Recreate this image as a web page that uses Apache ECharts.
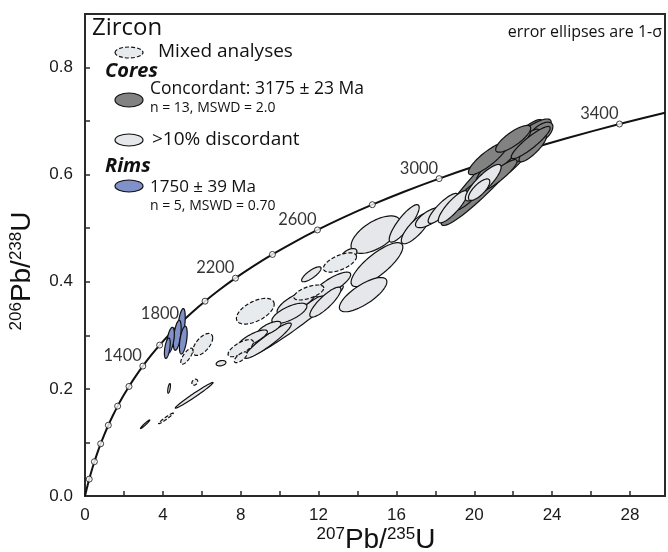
<!DOCTYPE html>
<html><head><meta charset="utf-8">
<script src="https://cdn.jsdelivr.net/npm/echarts@6/dist/echarts.min.js"></script>
<style>html,body{margin:0;padding:0;background:#fff}#c{width:668px;height:552px}</style>
</head><body><div id="c"></div>
<script>
// Concordia reference curve (age in Ma, 207Pb/235U, 206Pb/238U)
const concordiaAges = [0, 100, 200, 300, 400, 500, 600, 700, 800, 900, 1000, 1100, 1200, 1300, 1400, 1500, 1600, 1700, 1800, 1900, 2000, 2100, 2200, 2300, 2400, 2500, 2600, 2700, 2800, 2900, 3000, 3100, 3200, 3300, 3400, 3480];
const concordiaX = [0, 0.1035, 0.2177, 0.3437, 0.4828, 0.6363, 0.8056, 0.9925, 1.1988, 1.4263, 1.6774, 1.9546, 2.2603, 2.5978, 2.9701, 3.3810, 3.8345, 4.3349, 4.8870, 5.4963, 6.1687, 6.9106, 7.7294, 8.6329, 9.6298, 10.730, 11.944, 13.284, 14.762, 16.393, 18.194, 20.180, 22.372, 24.791, 27.461, 29.80];
const concordiaY = [0, 0.01563, 0.03151, 0.04764, 0.06402, 0.08065, 0.09754, 0.11470, 0.13213, 0.14983, 0.16780, 0.18606, 0.20459, 0.22343, 0.24257, 0.26198, 0.28173, 0.30175, 0.32211, 0.34277, 0.36377, 0.38508, 0.40675, 0.42873, 0.45107, 0.47375, 0.49678, 0.52019, 0.54396, 0.56809, 0.59263, 0.61750, 0.64281, 0.66848, 0.69459, 0.71577];
const labelledAges = [1400, 1800, 2200, 2600, 3000, 3400];

// Error ellipses: [207/235, 206/238, sigma x, sigma y, rho]
const mixedEllipses = [
  [8.75, 0.345, 0.97, 0.024, 0.55],
  [6.05, 0.283, 0.51, 0.0205, 0.6],
  [5.23, 0.261, 0.31, 0.015, 0.75],
  [5.64, 0.2125, 0.15, 0.0056, 0.3],
  [4.16, 0.145, 0.38, 0.010, 0.97],
  [8.0, 0.276, 0.65, 0.016, 0.7],
  [8.0, 0.259, 0.33, 0.010, 0.7],
  [13.1, 0.436, 0.85, 0.018, 0.6],
  [11.5, 0.380, 0.77, 0.014, 0.6]
];
const concordantEllipses = [
  [20.9, 0.604, 2.6, 0.099, 0.95],
  [22.6, 0.665, 1.35, 0.039, 0.85],
  [23.4, 0.677, 0.64, 0.021, 0.6],
  [22.2, 0.645, 1.15, 0.040, 0.9],
  [21.7, 0.617, 1.15, 0.037, 0.9],
  [22.5, 0.641, 0.8, 0.020, 0.8],
  [21.5, 0.635, 1.4, 0.050, 0.93],
  [20.7, 0.630, 1.0, 0.030, 0.85],
  [22.0, 0.667, 0.9, 0.025, 0.8],
  [19.7, 0.561, 0.8, 0.028, 0.85],
  [23.0, 0.649, 0.7, 0.025, 0.85],
  [21.2, 0.598, 1.0, 0.030, 0.9],
  [22.9, 0.660, 1.0, 0.030, 0.9]
];
const discordantEllipses = [
  [10.77, 0.326, 2.5, 0.067, 0.97],
  [9.4, 0.290, 1.2, 0.033, 0.93],
  [15.0, 0.432, 1.33, 0.041, 0.8],
  [14.29, 0.376, 1.22, 0.032, 0.75],
  [14.95, 0.488, 1.28, 0.035, 0.6],
  [13.57, 0.451, 0.4, 0.011, 0.5],
  [11.63, 0.414, 0.5, 0.014, 0.8],
  [12.7, 0.395, 0.95, 0.023, 0.8],
  [10.87, 0.362, 1.0, 0.023, 0.75],
  [12.35, 0.362, 0.8, 0.028, 0.85],
  [10.5, 0.341, 0.9, 0.019, 0.7],
  [9.47, 0.313, 0.6, 0.013, 0.7],
  [8.62, 0.294, 0.75, 0.016, 0.8],
  [16.4, 0.509, 0.77, 0.035, 0.85],
  [17.0, 0.500, 0.75, 0.029, 0.8],
  [17.7, 0.520, 0.72, 0.019, 0.7],
  [18.4, 0.537, 0.77, 0.028, 0.85],
  [18.9, 0.540, 0.75, 0.030, 0.85],
  [20.46, 0.585, 0.92, 0.034, 0.85],
  [20.25, 0.572, 0.55, 0.020, 0.75],
  [6.99, 0.248, 0.25, 0.005, 0.3],
  [5.61, 0.188, 0.97, 0.024, 0.985],
  [4.32, 0.201, 0.07, 0.009, 0.6],
  [3.09, 0.134, 0.24, 0.008, 0.97]
];
const rimEllipses = [
  [4.95, 0.318, 0.2, 0.032, 0.5],
  [4.74, 0.300, 0.2, 0.028, 0.5],
  [5.05, 0.291, 0.2, 0.026, 0.5],
  [4.39, 0.291, 0.2, 0.024, 0.5],
  [4.23, 0.276, 0.15, 0.019, 0.5]
];
const xTicks = [0, 4, 8, 12, 16, 20, 24, 28];
const yTicks = [0.0, 0.2, 0.4, 0.6, 0.8];

const chart = echarts.init(document.getElementById('c'), null, {renderer: 'canvas'});

function ellipseSeries(name, data, fill, dashed, z) {
  return {
    type: 'custom', name, data, z, clip: true,
    encode: {x: 0, y: 1},
    renderItem(params, api) {
      const cx = api.value(0), cy = api.value(1), sx = api.value(2), sy = api.value(3), r = api.value(4);
      const q = Math.sqrt(1 - r * r);
      const pts = [];
      for (let k = 0; k < 72; k++) {
        const t = 2 * Math.PI * k / 72;
        pts.push(api.coord([cx + sx * Math.cos(t), cy + sy * (r * Math.cos(t) + q * Math.sin(t))]));
      }
      return {
        type: 'polygon', shape: {points: pts},
        style: {fill, stroke: '#111', lineWidth: 1.2, lineDash: dashed ? [4, 2] : null}
      };
    }
  };
}

const curveData = concordiaX.map((x, i) => [x, concordiaY[i]]);
const markerData = concordiaAges.map((a, i) => [concordiaX[i], concordiaY[i], a])
  .filter(d => d[2] > 0 && d[2] % 200 === 0);
const labelData = markerData.filter(d => labelledAges.includes(d[2]));

const F = 'Open Sans';
const titleRich = {
  s: {fontSize: 17, fontFamily: 'Liberation Sans', verticalAlign: 'top', fill: '#111'},
  m: {fontSize: 28, fontFamily: 'Liberation Sans', fill: '#111'}
};
const option = {
  animation: false,
  backgroundColor: '#fff',
  grid: {left: 85, right: 1, top: 14, bottom: 56, show: true, borderColor: '#2a2a2a', borderWidth: 2, backgroundColor: 'transparent'},
  xAxis: {
    type: 'value', min: 0, max: 29.8, interval: 2,
    axisLine: {show: true, onZero: false, lineStyle: {color: '#2a2a2a', width: 2}},
    axisTick: {show: true, inside: true, length: 5, lineStyle: {color: '#2a2a2a', width: 1.5}},
    splitLine: {show: false},
    axisLabel: {margin: 11, color: '#1a1a1a', fontSize: 17, fontFamily: 'Liberation Sans',
      formatter: v => xTicks.includes(v) ? String(v) : ''}
  },
  yAxis: {
    type: 'value', min: 0, max: 0.9, interval: 0.1,
    axisLine: {show: true, onZero: false, lineStyle: {color: '#2a2a2a', width: 2}},
    axisTick: {show: true, inside: true, length: 5, lineStyle: {color: '#2a2a2a', width: 1.5}},
    splitLine: {show: false},
    axisLabel: {margin: 12, color: '#1a1a1a', fontSize: 17, fontFamily: 'Liberation Sans',
      formatter: v => yTicks.some(t => Math.abs(t - v) < 1e-6) ? v.toFixed(1) : ''}
  },
  series: [
    {type: 'line', name: 'Concordia', data: curveData, showSymbol: false, smooth: 0.25,
      lineStyle: {color: '#111', width: 2}, z: 2, silent: true},
    {type: 'scatter', name: 'Age markers', data: markerData, symbol: 'circle', symbolSize: 6,
      itemStyle: {color: '#fff', borderColor: '#111', borderWidth: 1}, z: 3, silent: true},
    ellipseSeries('Concordant', concordantEllipses, '#828282', false, 4),
    ellipseSeries('Discordant', discordantEllipses, '#e5e7ea', false, 5),
    ellipseSeries('Mixed', mixedEllipses, '#e8ebee', true, 6),
    ellipseSeries('Rims', rimEllipses, '#8090c9', false, 7),
    {type: 'scatter', name: 'Age labels', data: labelData, symbolSize: 0, z: 8, silent: true,
      label: {show: true, position: 'left', distance: 1, offset: [0, -10], formatter: p => String(p.value[2]),
        color: '#000', fontSize: 16.5, fontFamily: 'Lato'}}
  ],
  graphic: [
    {type: 'text', style: {text: 'Zircon', x: 92, y: 28.6, verticalAlign: 'middle', font: '24px ' + F, fill: '#111'}},
    {type: 'ellipse', shape: {cx: 129, cy: 52.5, rx: 14, ry: 5.5}, style: {fill: '#e8ebee', stroke: '#111', lineWidth: 1.2, lineDash: [4, 2]}},
    {type: 'text', style: {text: 'Mixed analyses', x: 158, y: 51.7, verticalAlign: 'middle', font: '19px ' + F, fill: '#111'}},
    {type: 'text', style: {text: 'Cores', x: 105, y: 71.4, verticalAlign: 'middle', font: 'italic bold 20px ' + F, fill: '#111'}},
    {type: 'ellipse', shape: {cx: 129, cy: 100, rx: 14, ry: 7}, style: {fill: '#828282', stroke: '#111', lineWidth: 1.2}},
    {type: 'text', style: {text: 'Concordant: 3175 ± 23 Ma', x: 150, y: 88.7, verticalAlign: 'middle', font: '17.5px ' + F, fill: '#111'}},
    {type: 'text', style: {text: 'n = 13, MSWD = 2.0', x: 150, y: 108.5, verticalAlign: 'middle', font: '14px ' + F, fill: '#111'}},
    {type: 'ellipse', shape: {cx: 129, cy: 140, rx: 14, ry: 6}, style: {fill: '#e5e7ea', stroke: '#111', lineWidth: 1.2}},
    {type: 'text', style: {text: '>10% discordant', x: 152, y: 139.7, verticalAlign: 'middle', font: '19px ' + F, fill: '#111'}},
    {type: 'text', style: {text: 'Rims', x: 105, y: 166.4, verticalAlign: 'middle', font: 'italic bold 20px ' + F, fill: '#111'}},
    {type: 'ellipse', shape: {cx: 129, cy: 186, rx: 14, ry: 6}, style: {fill: '#8090c9', stroke: '#111', lineWidth: 1.2}},
    {type: 'text', style: {text: '1750 ± 39 Ma', x: 150, y: 186.7, verticalAlign: 'middle', font: '17px ' + F, fill: '#111'}},
    {type: 'text', style: {text: 'n = 5, MSWD = 0.70', x: 150, y: 206.5, verticalAlign: 'middle', font: '14px ' + F, fill: '#111'}},
    {type: 'text', style: {text: 'error ellipses are 1-σ', x: 662, y: 32, align: 'right', verticalAlign: 'middle', font: '16px ' + F, fill: '#111'}},
    {type: 'text', style: {text: '{s|207}{m|Pb/}{s|235}{m|U}', x: 376, y: 540, align: 'center', verticalAlign: 'middle', rich: titleRich}},
    {type: 'text', x: 22, y: 271, rotation: Math.PI / 2, style: {text: '{s|206}{m|Pb/}{s|238}{m|U}', x: 0, y: 0, align: 'center', verticalAlign: 'middle', rich: titleRich}}
  ]
};
chart.setOption(option);
</script></body></html>
